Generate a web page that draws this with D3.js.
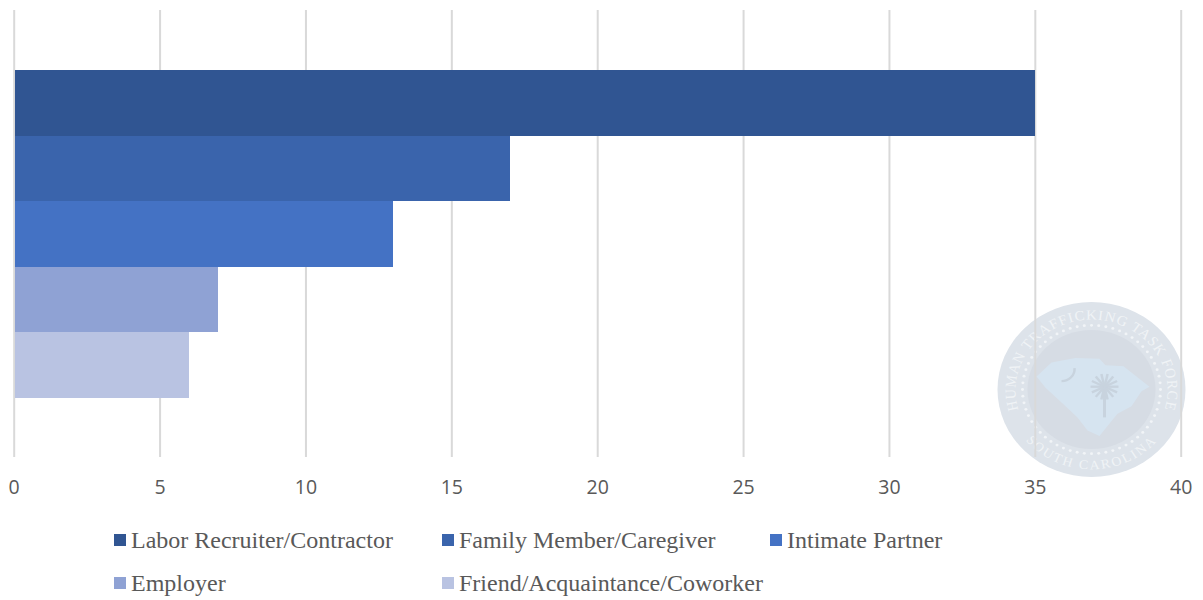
<!DOCTYPE html>
<html>
<head>
<meta charset="utf-8">
<script src="https://cdn.jsdelivr.net/npm/d3@7"></script>
<style>
	html, body { margin: 0; padding: 0; background: #fff; }
	svg { display: block; }
	.tick text { font-family: "Open Sans", sans-serif; font-size: 19.5px; fill: #595959; }
	.legend text { font-family: "Liberation Serif", serif; font-size: 24px; fill: #595959; }
</style>
</head>
<body>
<svg id="chart" width="1203" height="600"></svg>
<script>
const categories = ['Labor Recruiter/Contractor', 'Family Member/Caregiver', 'Intimate Partner', 'Employer', 'Friend/Acquaintance/Coworker'];
const values = [35, 17, 13, 7, 6];
const colors = ['#305592', '#3a64ac', '#4472c4', '#8fa2d4', '#b9c3e2'];
const tickValues = [0, 5, 10, 15, 20, 25, 30, 35, 40];

const width = 1203;
const height = 600;

const svg = d3.select('#chart')
	.attr('viewBox', [0, 0, width, height]);

const x = d3.scaleLinear().domain([0, 40]).range([13.7, 1180.7]);
const y = d3.scaleBand().domain(categories).range([70, 398]);

// watermark seal, sits under the grid
const seal = svg.append('g')
	.attr('transform', 'translate(1091.5,389.5) scale(1,0.93)');

seal.append('circle').attr('r', 94).attr('fill', '#dde3ea');
seal.append('circle').attr('r', 64).attr('fill', '#d6dce4');

// ring of dots
seal.selectAll('circle.dot')
	.data(d3.range(60))
	.join('circle')
	.attr('class', 'dot')
	.attr('r', 1.5)
	.attr('fill', '#f1f4f7')
	.attr('cx', d => 69 * Math.cos(d / 60 * 2 * Math.PI))
	.attr('cy', d => 69 * Math.sin(d / 60 * 2 * Math.PI));

// rough outline of the state
seal.append('path')
	.attr('fill', '#d6e4f0')
	.attr('d', 'M-55,-14 L-40,-29 L-16,-34 L8,-33 L14,-26 L32,-25 L58,-3 L50,2 L40,18 L26,26 L14,42 L8,50 L-4,44 L-14,30 L-30,14 L-46,-2 Z');

seal.append('path')
	.attr('fill', 'none')
	.attr('stroke', '#c8d3de')
	.attr('stroke-width', 2.5)
	.attr('d', 'M-17,-23 A13,13 0 0 1 -30,-9');

// palmetto
seal.append('line')
	.attr('x1', 13).attr('x2', 13).attr('y1', -3).attr('y2', 30)
	.attr('stroke', '#c8d3de').attr('stroke-width', 3);
seal.selectAll('line.frond')
	.data(d3.range(14))
	.join('line')
	.attr('class', 'frond')
	.attr('x1', 13).attr('y1', -3)
	.attr('x2', d => 13 + 14 * Math.cos(d / 14 * 2 * Math.PI))
	.attr('y2', d => -3 + 14 * Math.sin(d / 14 * 2 * Math.PI))
	.attr('stroke', '#c8d3de').attr('stroke-width', 2.5);

const defs = svg.append('defs');
defs.append('path').attr('id', 'sealTop').attr('d', 'M-73,22 A76,76 0 1 1 73,22');
defs.append('path').attr('id', 'sealBottom').attr('d', 'M-76,40 A86,86 0 0 0 76,40');

seal.append('text')
	.attr('font-family', 'Liberation Serif, serif')
	.attr('font-size', 15)
	.attr('letter-spacing', 1)
	.attr('fill', '#f0f3f6')
	.append('textPath')
	.attr('href', '#sealTop')
	.attr('startOffset', '50%')
	.attr('text-anchor', 'middle')
	.text('HUMAN TRAFFICKING TASK FORCE');

seal.append('text')
	.attr('font-family', 'Liberation Serif, serif')
	.attr('font-size', 14)
	.attr('letter-spacing', 2)
	.attr('fill', '#f0f3f6')
	.append('textPath')
	.attr('href', '#sealBottom')
	.attr('startOffset', '50%')
	.attr('text-anchor', 'middle')
	.text('SOUTH CAROLINA');

// grid + tick labels
const axis = d3.axisBottom(x)
	.tickValues(tickValues)
	.tickSize(-447)
	.tickPadding(23);

svg.append('g')
	.attr('transform', 'translate(0,457)')
	.call(axis)
	.call(g => g.select('.domain').remove())
	.call(g => g.selectAll('.tick line').attr('stroke', '#d9d9d9').attr('stroke-width', 2));

// bars
svg.selectAll('rect.bar')
	.data(categories)
	.join('rect')
	.attr('class', 'bar')
	.attr('x', x(0) + 1)
	.attr('y', d => y(d))
	.attr('width', (d, i) => x(values[i]) - x(0) - 1)
	.attr('height', y.bandwidth())
	.attr('shape-rendering', 'crispEdges')
	.attr('fill', (d, i) => colors[i]);

// legend
const legendX = [114, 442, 770, 114, 442];
const legendY = [540, 540, 540, 583, 583];

const legend = svg.append('g')
	.attr('class', 'legend')
	.selectAll('g')
	.data(categories)
	.join('g')
	.attr('transform', (d, i) => `translate(${legendX[i]},${legendY[i]})`);

legend.append('rect')
	.attr('y', -6)
	.attr('width', 12)
	.attr('height', 12)
	.attr('fill', (d, i) => colors[i]);

legend.append('text')
	.attr('x', 17)
	.attr('y', 8)
	.text(d => d);
</script>
</body>
</html>
